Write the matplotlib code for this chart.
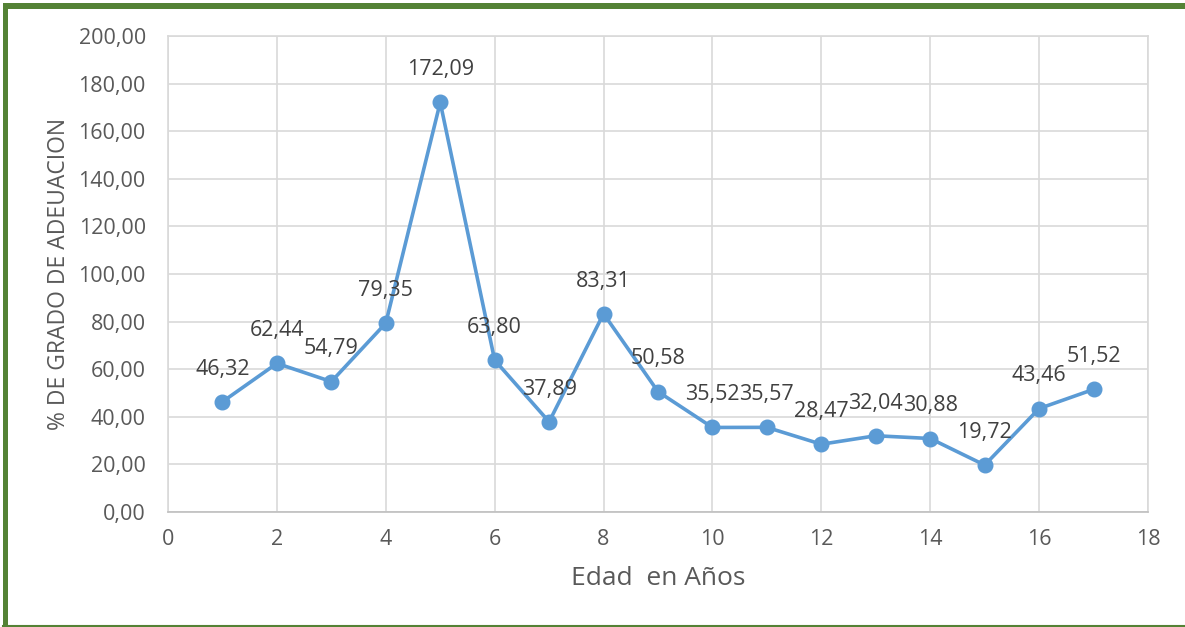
import matplotlib.pyplot as plt
from matplotlib.patches import Rectangle
from matplotlib.lines import Line2D

# age in years and adequacy percentage
edad = [1, 2, 3, 4, 5, 6, 7, 8, 9, 10, 11, 12, 13, 14, 15, 16, 17]
adecuacion = [46.32, 62.44, 54.79, 79.35, 172.09, 63.80, 37.89, 83.31, 50.58,
              35.52, 35.57, 28.47, 32.04, 30.88, 19.72, 43.46, 51.52]

LINE_COLOR = '#5B9BD5'
GRID_COLOR = '#D9D9D9'
TEXT_COLOR = '#595959'
BORDER_COLOR = '#548235'

plt.rcParams['font.family'] = ['Open Sans', 'DejaVu Sans']

fig = plt.figure(figsize=(11.85, 6.27), dpi=100)
ax = fig.add_axes([168 / 1185, 1 - 512 / 627, (1148 - 168) / 1185, (512 - 36) / 627])

ax.plot(edad, adecuacion, color=LINE_COLOR, linewidth=2.6, marker='o',
        markersize=10.5, zorder=3, clip_on=False)

def fmt(v):
    return '{:.2f}'.format(v).replace('.', ',')

# value labels above each point
for x, y in zip(edad, adecuacion):
    ax.annotate(fmt(y), (x, y), xytext=(0, 23.5), textcoords='offset points',
                ha='center', va='center', fontsize=15.5, color='#404040')

ax.set_xlim(0, 18)
ax.set_ylim(0, 200)
ax.set_xticks(range(0, 19, 2))
ax.set_yticks(range(0, 201, 20))
ax.set_yticklabels([fmt(v) for v in range(0, 201, 20)])
ax.grid(True, color=GRID_COLOR, linewidth=1.2)
ax.set_axisbelow(True)
for side in ax.spines:
    ax.spines[side].set_color(GRID_COLOR)
    ax.spines[side].set_linewidth(1.2)
ax.spines['bottom'].set_color('#BFBFBF')
ax.tick_params(length=0, labelsize=15.5, colors=TEXT_COLOR)
ax.tick_params(axis='y', pad=16)
ax.tick_params(axis='x', pad=12)

ax.set_xlabel('Edad  en Años', fontsize=19, color=TEXT_COLOR, labelpad=12)
ax.set_ylabel('% DE GRADO DE ADEUACION', fontsize=16.5, color=TEXT_COLOR, labelpad=5)

# green frame around the chart
fig.add_artist(Rectangle((3 / 1185, 0), 5 / 1185, 1 - 3 / 627,
                         transform=fig.transFigure, color=BORDER_COLOR, lw=0))
fig.add_artist(Rectangle((3 / 1185, 1 - 9 / 627), 1, 6 / 627,
                         transform=fig.transFigure, color=BORDER_COLOR, lw=0))
fig.add_artist(Line2D([3 / 1185, 1], [1.5 / 627, 1.5 / 627],
                      transform=fig.transFigure, color=BORDER_COLOR, lw=1.5))

fig.savefig('out.png', dpi=100)
